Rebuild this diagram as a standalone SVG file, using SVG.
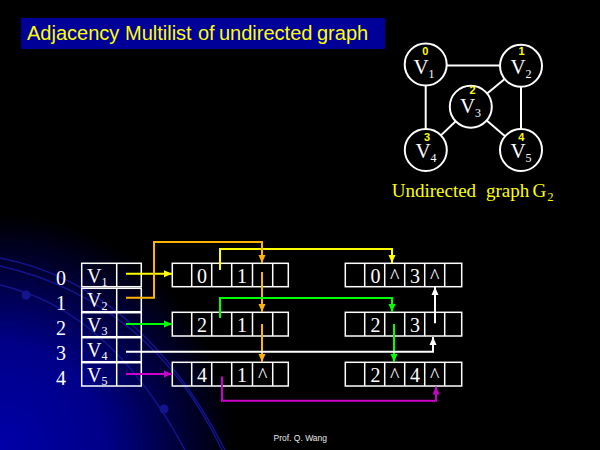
<svg xmlns="http://www.w3.org/2000/svg" width="600" height="450" viewBox="0 0 600 450">
  <defs>
    <radialGradient id="glow" cx="0" cy="450" r="235" gradientUnits="userSpaceOnUse">
      <stop offset="0" stop-color="#0000a8"/>
      <stop offset="0.45" stop-color="#000088"/>
      <stop offset="0.8" stop-color="#000030"/>
      <stop offset="1" stop-color="#000000"/>
    </radialGradient>
    <marker id="ah-yellow" viewBox="0 0 8 8" refX="8" refY="4" markerWidth="8" markerHeight="8" markerUnits="userSpaceOnUse" orient="auto">
      <path d="M0,0.5 L8,4 L0,7.5 z" fill="#ffff00"/>
    </marker>
    <marker id="ah-orange" viewBox="0 0 8 8" refX="8" refY="4" markerWidth="8" markerHeight="8" markerUnits="userSpaceOnUse" orient="auto">
      <path d="M0,0.5 L8,4 L0,7.5 z" fill="#ffb400"/>
    </marker>
    <marker id="ah-green" viewBox="0 0 8 8" refX="8" refY="4" markerWidth="8" markerHeight="8" markerUnits="userSpaceOnUse" orient="auto">
      <path d="M0,0.5 L8,4 L0,7.5 z" fill="#00ff00"/>
    </marker>
    <marker id="ah-white" viewBox="0 0 8 8" refX="8" refY="4" markerWidth="8" markerHeight="8" markerUnits="userSpaceOnUse" orient="auto">
      <path d="M0,0.5 L8,4 L0,7.5 z" fill="#ffffff"/>
    </marker>
    <marker id="ah-magenta" viewBox="0 0 8 8" refX="8" refY="4" markerWidth="8" markerHeight="8" markerUnits="userSpaceOnUse" orient="auto">
      <path d="M0,0.5 L8,4 L0,7.5 z" fill="#cc00cc"/>
    </marker>
  </defs>
  <style>
    .cell { fill: none; stroke: #ffffff; stroke-width: 1.5; }
    .div { stroke: #ffffff; stroke-width: 1.5; }
    .val { font-family: "Liberation Serif", "Times New Roman", serif; font-size: 20px; fill: #ffffff; text-anchor: middle; }
    .lbl { font-family: "Liberation Serif", "Times New Roman", serif; font-size: 20px; fill: #ffffff; }
    .sub { font-size: 12px; }
    .circ { fill: none; stroke: #ffffff; stroke-width: 2; }
    .edge { stroke: #ffffff; stroke-width: 2; }
    .vid { font-family: "Liberation Sans", Arial, sans-serif; font-weight: bold; font-size: 11px; fill: #ffff00; text-anchor: middle; }
    .vname { font-family: "Liberation Serif", "Times New Roman", serif; font-size: 21px; fill: #ffffff; text-anchor: middle; }
    .link { fill: none; stroke-width: 2; }
    .deco { fill: none; stroke: #14148c; stroke-width: 1.4; }
  </style>

  <!-- backdrop -->
  <rect x="0" y="0" width="600" height="450" fill="#000000"/>
  <rect x="0" y="200" width="260" height="250" fill="url(#glow)"/>
  <g id="backdrop-swirl">
    <path class="deco" d="M0,258 Q140,285 225,450"/>
    <path class="deco" d="M0,285 Q110,310 185,450"/>
    <path class="deco" d="M0,266 Q150,300 222,450"/>
    <circle cx="26" cy="295" r="4.5" fill="#14148c"/>
    <circle cx="164" cy="409" r="4.5" fill="#14148c"/>
  </g>

  <!-- title banner -->
  <g id="title">
    <rect x="21" y="18" width="364" height="31" fill="#000099"/>
    <text font-family="'Liberation Sans', Arial, sans-serif" font-size="20" fill="#ffff00" y="40"><tspan x="27">Adjacency</tspan><tspan x="125">Multilist</tspan><tspan x="198">of</tspan><tspan x="219">undirected</tspan><tspan x="317">graph</tspan></text>
  </g>

  <!-- undirected graph G2 -->
  <g id="graph-g2">
    <g id="g2-edges">
      <line class="edge" x1="446.5" y1="65.5" x2="500" y2="65.5"/>
      <line class="edge" x1="425.7" y1="85" x2="425.7" y2="129"/>
      <line class="edge" x1="521" y1="87" x2="521" y2="129"/>
      <line class="edge" x1="487.1" y1="93.5" x2="504.7" y2="79"/>
      <line class="edge" x1="455.7" y1="121.3" x2="440.9" y2="135.4"/>
      <line class="edge" x1="486.7" y1="120.4" x2="505.1" y2="136.3"/>
    </g>
    <g id="g2-v1">
      <circle class="circ" cx="425.7" cy="64.5" r="21"/>
      <text class="vid" x="425.3" y="55">0</text>
      <text class="vname" x="424" y="73.5">V<tspan class="sub" dy="4" font-size="13">1</tspan></text>
    </g>
    <g id="g2-v2">
      <circle class="circ" cx="521" cy="65.8" r="21"/>
      <text class="vid" x="521.5" y="55">1</text>
      <text class="vname" x="521" y="73.5">V<tspan class="sub" dy="4" font-size="13">2</tspan></text>
    </g>
    <g id="g2-v3">
      <circle class="circ" cx="470.8" cy="106.7" r="21"/>
      <text class="vid" x="472.5" y="94">2</text>
      <text class="vname" x="470.5" y="112.7">V<tspan class="sub" dy="4" font-size="13">3</tspan></text>
    </g>
    <g id="g2-v4">
      <circle class="circ" cx="425.8" cy="150" r="21"/>
      <text class="vid" x="427" y="141.3">3</text>
      <text class="vname" x="426" y="157.7">V<tspan class="sub" dy="4" font-size="13">4</tspan></text>
    </g>
    <g id="g2-v5">
      <circle class="circ" cx="521" cy="150" r="21"/>
      <text class="vid" x="521.3" y="141.3">4</text>
      <text class="vname" x="521" y="157.7">V<tspan class="sub" dy="4" font-size="13">5</tspan></text>
    </g>
    <text id="g2-caption" font-family="'Liberation Serif', 'Times New Roman', serif" font-size="19" fill="#ffff00" y="196.5"><tspan x="391.7">Undirected</tspan><tspan x="486">graph</tspan><tspan x="532.5">G</tspan><tspan font-size="12" x="547.5" dy="4">2</tspan></text>
  </g>

  <!-- vertex table -->
  <g id="vertex-table">
    <g id="row-0">
      <text class="val" x="61" y="285">0</text>
      <rect class="cell" x="81.7" y="263.3" width="59.6" height="23.4"/>
      <line class="div" x1="116.7" y1="263.3" x2="116.7" y2="286.7"/>
      <text class="lbl" x="87" y="282.5">V<tspan class="sub" dy="3">1</tspan></text>
    </g>
    <g id="row-1">
      <text class="val" x="61" y="309.5">1</text>
      <rect class="cell" x="81.7" y="288.3" width="59.6" height="23.4"/>
      <line class="div" x1="116.7" y1="288.3" x2="116.7" y2="311.7"/>
      <text class="lbl" x="87" y="307">V<tspan class="sub" dy="3">2</tspan></text>
    </g>
    <g id="row-2">
      <text class="val" x="61" y="335">2</text>
      <rect class="cell" x="81.7" y="312.7" width="59.6" height="24"/>
      <line class="div" x1="116.7" y1="312.7" x2="116.7" y2="336.7"/>
      <text class="lbl" x="87" y="332">V<tspan class="sub" dy="3">3</tspan></text>
    </g>
    <g id="row-3">
      <text class="val" x="61" y="360">3</text>
      <rect class="cell" x="81.7" y="337.7" width="59.6" height="24"/>
      <line class="div" x1="116.7" y1="337.7" x2="116.7" y2="361.7"/>
      <text class="lbl" x="87" y="357">V<tspan class="sub" dy="3">4</tspan></text>
    </g>
    <g id="row-4">
      <text class="val" x="61" y="384.5">4</text>
      <rect class="cell" x="81.7" y="362.7" width="59.6" height="23.3"/>
      <line class="div" x1="116.7" y1="362.7" x2="116.7" y2="386"/>
      <text class="lbl" x="87" y="382">V<tspan class="sub" dy="3">5</tspan></text>
    </g>
  </g>

  <!-- edge nodes: mark | ivex | ilink | jvex | jlink | info -->
  <g id="edge-v1-v2">
    <rect class="cell" x="172.3" y="263.3" width="116" height="23.4"/>
    <path class="div" d="M191.7,263.3V286.7 M211.7,263.3V286.7 M231.7,263.3V286.7 M252.5,263.3V286.7 M272.7,263.3V286.7"/>
    <text class="val" x="202" y="283">0</text>
    <text class="val" x="242" y="283">1</text>
  </g>
  <g id="edge-v3-v2">
    <rect class="cell" x="172.3" y="312.3" width="116" height="23.7"/>
    <path class="div" d="M191.7,312.3V336 M211.7,312.3V336 M231.7,312.3V336 M252.5,312.3V336 M272.7,312.3V336"/>
    <text class="val" x="202" y="332">2</text>
    <text class="val" x="242" y="332">1</text>
  </g>
  <g id="edge-v5-v2">
    <rect class="cell" x="172.3" y="362.3" width="116" height="23.7"/>
    <path class="div" d="M191.7,362.3V386 M211.7,362.3V386 M231.7,362.3V386 M252.5,362.3V386 M272.7,362.3V386"/>
    <text class="val" x="202" y="382">4</text>
    <text class="val" x="242" y="382">1</text>
    <text class="val" x="262.6" y="382">^</text>
  </g>
  <g id="edge-v1-v4">
    <rect class="cell" x="345.3" y="263.3" width="116.4" height="23.4"/>
    <path class="div" d="M364.7,263.3V286.7 M384.7,263.3V286.7 M404.7,263.3V286.7 M424.7,263.3V286.7 M444.7,263.3V286.7"/>
    <text class="val" x="375.5" y="283">0</text>
    <text class="val" x="394.7" y="283">^</text>
    <text class="val" x="415" y="283">3</text>
    <text class="val" x="434.7" y="283">^</text>
  </g>
  <g id="edge-v3-v4">
    <rect class="cell" x="345.3" y="312.3" width="116.4" height="23.7"/>
    <path class="div" d="M364.7,312.3V336 M384.7,312.3V336 M404.7,312.3V336 M424.7,312.3V336 M444.7,312.3V336"/>
    <text class="val" x="375.5" y="332">2</text>
    <text class="val" x="415" y="332">3</text>
  </g>
  <g id="edge-v3-v5">
    <rect class="cell" x="345.3" y="362.3" width="116.4" height="23.7"/>
    <path class="div" d="M364.7,362.3V386 M384.7,362.3V386 M404.7,362.3V386 M424.7,362.3V386 M444.7,362.3V386"/>
    <text class="val" x="375.5" y="382">2</text>
    <text class="val" x="394.7" y="382">^</text>
    <text class="val" x="415" y="382">4</text>
    <text class="val" x="434.7" y="382">^</text>
  </g>

  <!-- pointer links -->
  <g id="connectors">
    <path class="link" stroke="#ffff00" d="M126,273.7H172" marker-end="url(#ah-yellow)"/>
    <path class="link" stroke="#ffff00" d="M220,270V249H392V263" marker-end="url(#ah-yellow)"/>
    <path class="link" stroke="#ffb400" d="M126,297.7H154V242H262V263" marker-end="url(#ah-orange)"/>
    <path class="link" stroke="#ffb400" d="M262,272V312" marker-end="url(#ah-orange)"/>
    <path class="link" stroke="#ffb400" d="M262,324V362" marker-end="url(#ah-orange)"/>
    <path class="link" stroke="#00ff00" d="M126,324H172" marker-end="url(#ah-green)"/>
    <path class="link" stroke="#00ff00" d="M220,318V298H392V312" marker-end="url(#ah-green)"/>
    <path class="link" stroke="#00ff00" d="M394,324V362" marker-end="url(#ah-green)"/>
    <path class="link" stroke="#ffffff" d="M126,351.7H433V337" marker-end="url(#ah-white)"/>
    <path class="link" stroke="#ffffff" d="M435,323.3V287" marker-end="url(#ah-white)"/>
    <path class="link" stroke="#cc00cc" d="M126,374H172" marker-end="url(#ah-magenta)"/>
    <path class="link" stroke="#cc00cc" d="M222,376.5V400.7H436V386.5" marker-end="url(#ah-magenta)"/>
  </g>

  <text id="footer" x="273.5" y="441" font-family="'Liberation Sans', Arial, sans-serif" font-size="8.5" fill="#e8e8e8">Prof.  Q.  Wang</text>
</svg>
